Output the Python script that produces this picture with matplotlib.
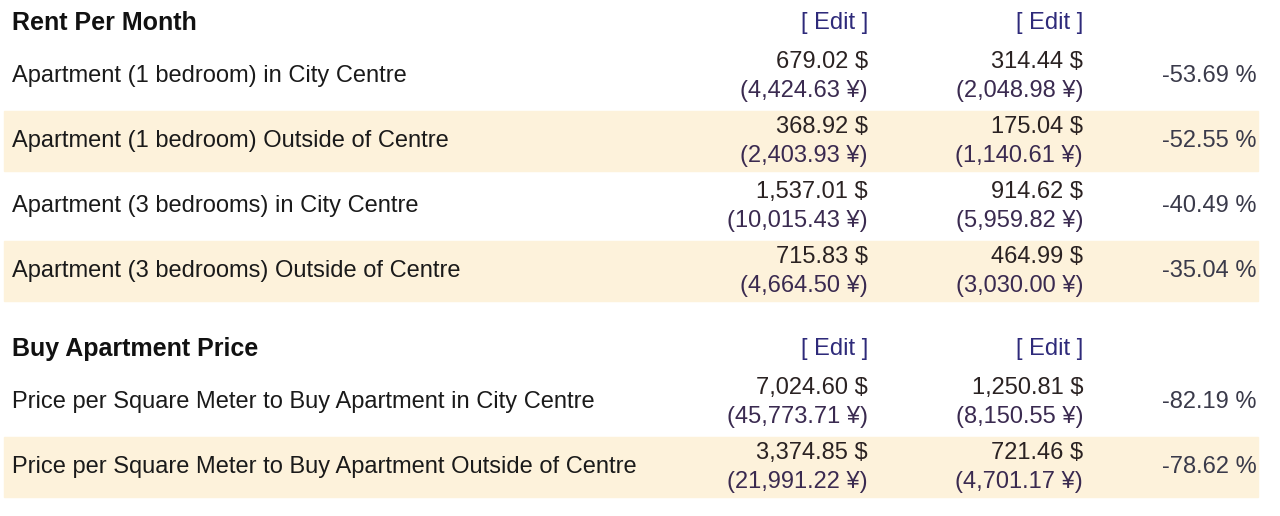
import matplotlib
matplotlib.use("Agg")
import matplotlib.pyplot as plt
from matplotlib.patches import Rectangle

plt.rcParams['font.family'] = ['Liberation Sans', 'DejaVu Sans']

sections = ["Rent Per Month", "Buy Apartment Price"]
rent_labels = ["Apartment (1 bedroom) in City Centre",
               "Apartment (1 bedroom) Outside of Centre",
               "Apartment (3 bedrooms) in City Centre",
               "Apartment (3 bedrooms) Outside of Centre"]
rent_usd1 = ["679.02 $", "368.92 $", "1,537.01 $", "715.83 $"]
rent_cny1 = ["(4,424.63 ¥)", "(2,403.93 ¥)", "(10,015.43 ¥)", "(4,664.50 ¥)"]
rent_usd2 = ["314.44 $", "175.04 $", "914.62 $", "464.99 $"]
rent_cny2 = ["(2,048.98 ¥)", "(1,140.61 ¥)", "(5,959.82 ¥)", "(3,030.00 ¥)"]
rent_pct = ["-53.69 %", "-52.55 %", "-40.49 %", "-35.04 %"]

buy_labels = ["Price per Square Meter to Buy Apartment in City Centre",
              "Price per Square Meter to Buy Apartment Outside of Centre"]
buy_usd1 = ["7,024.60 $", "3,374.85 $"]
buy_cny1 = ["(45,773.71 ¥)", "(21,991.22 ¥)"]
buy_usd2 = ["1,250.81 $", "721.46 $"]
buy_cny2 = ["(8,150.55 ¥)", "(4,701.17 ¥)"]
buy_pct = ["-82.19 %", "-78.62 %"]

fig = plt.figure(figsize=(12.8, 5.16), dpi=100)
ax = fig.add_axes([0, 0, 1, 1])
ax.set_xlim(0, 1280)
ax.set_ylim(516, 0)
ax.axis("off")

FS = 17
C_LBL = "#1a1a1a"
C_USD = "#2a2222"
C_CNY = "#3a2a50"
C_EDIT = "#2e2a7a"
C_PCT = "#3a3a4a"
SHADE = "#fdf2db"
X1, X2, X3 = 868, 1083, 1257

def header(y, title):
    ax.text(12, y, title, fontsize=18, fontweight="bold", color="#111", va="center", ha="left")
    ax.text(X1, y, "[ Edit ]", fontsize=FS, color=C_EDIT, va="center", ha="right")
    ax.text(X2, y, "[ Edit ]", fontsize=FS, color=C_EDIT, va="center", ha="right")

def rows(y0, labels, u1, c1, u2, c2, pct):
    for i, lab in enumerate(labels):
        y = y0 + i * 65
        if i % 2 == 1:
            ax.add_patch(Rectangle((4, y - 30), 1254, 60, color=SHADE, zorder=0))
        ax.text(12, y, lab, fontsize=FS, color=C_LBL, va="center", ha="left")
        ax.text(X1, y - 14, u1[i], fontsize=FS, color=C_USD, va="center", ha="right")
        ax.text(X1, y + 15, c1[i], fontsize=FS, color=C_CNY, va="center", ha="right")
        ax.text(X2, y - 14, u2[i], fontsize=FS, color=C_USD, va="center", ha="right")
        ax.text(X2, y + 15, c2[i], fontsize=FS, color=C_CNY, va="center", ha="right")
        ax.text(X3, y, pct[i], fontsize=FS, color=C_PCT, va="center", ha="right")

header(23, sections[0])
rows(76, rent_labels, rent_usd1, rent_cny1, rent_usd2, rent_cny2, rent_pct)
header(349, sections[1])
rows(402, buy_labels, buy_usd1, buy_cny1, buy_usd2, buy_cny2, buy_pct)

fig.savefig("out.png", dpi=100, facecolor="white")
